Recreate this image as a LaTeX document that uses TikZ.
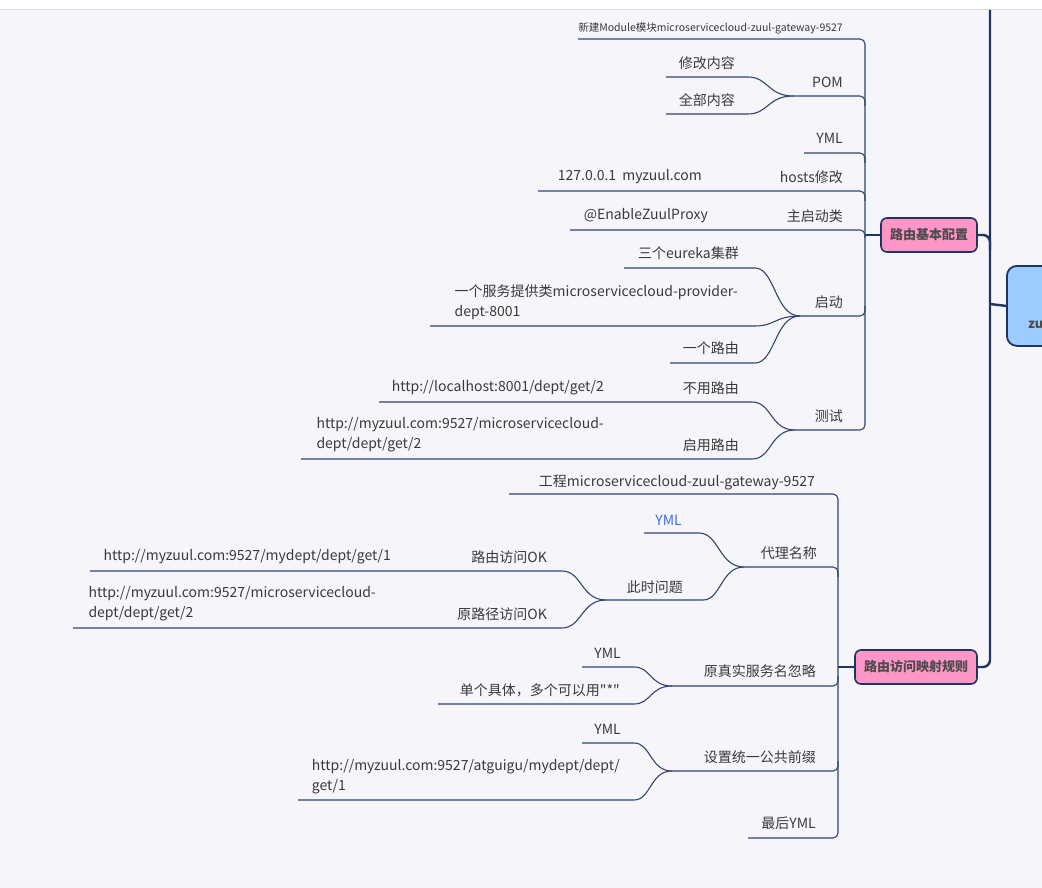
\documentclass[tikz,border=0pt]{standalone}
\usepackage{fontspec}
\setmainfont{Noto Sans CJK SC}
\newfontfamily\nq{Noto Sans CJK SC}
\definecolor{bg}{HTML}{F5F5FA}
\definecolor{navy}{HTML}{1F3560}
\definecolor{lnc}{HTML}{34466E}
\definecolor{txt}{HTML}{3A3A3A}
\definecolor{pinkf}{HTML}{FF96C8}
\definecolor{bluef}{HTML}{9CCBFF}
\definecolor{ymlblue}{HTML}{3F6FE8}
\begin{document}
\begin{tikzpicture}[x=1pt,y=-1pt,
 lbl/.style={anchor=east,inner sep=0pt,text=txt,font=\fontsize{14}{20}\selectfont,align=left},
 small/.style={lbl,font=\fontsize{10.5}{13}\selectfont},
 leaf/.style={draw=lnc,line width=1.1pt,rounded corners=5pt},
 br/.style={draw=navy,line width=1.8pt},
 trunk/.style={draw=navy,line width=2.4pt,rounded corners=7pt},
 topic/.style={draw=navy,line width=1.6pt,fill=pinkf,rounded corners=6pt,minimum height=34pt,inner xsep=7pt,text=black!70,font=\bfseries\fontsize{13}{15}\selectfont}
]
\clip (0,0) rectangle (1042,888);
\fill[bg] (0,0) rectangle (1042,888);
\fill[white] (0,0) rectangle (1042,9);
\draw[black!15,line width=1pt] (0,9.5) -- (1042,9.5);

% ---------- root and main topics ----------
\node[draw=navy,line width=1.8pt,fill=bluef,rounded corners=10pt,minimum width=100pt,minimum height=80pt,anchor=north west] (root) at (1006,265) {};
\node[anchor=west,inner sep=0pt,font=\bfseries\fontsize{13}{15}\selectfont,text=black!70] (rt) at (1028,323) {zuul};
\node[topic,minimum width=96pt] (p1) at (929,235) {路由基本配置};
\node[topic,minimum width=122pt] (p2) at (916,667) {路由访问映射规则};

\coordinate (ttop) at (990,10);
\coordinate (tj) at (990,304);
\draw[trunk] (ttop) -- (990,667) -- (p2.east);
\draw[trunk] (p1.east) -- (990,235) -- (990,250);
\draw[trunk] (root.west) -- (tj);

% ---------- branch 1 ----------
\coordinate (v1a) at (865,39);
\coordinate (v1b) at (865,430);
\node[small] (a1) at (843,28) {新建Module模块microservicecloud-zuul-gateway-9527};
\coordinate (a1s) at (578,39);
\node[lbl] (a7) at (843,416) {测试};
\coordinate (a7s) at (795,430);
\draw[leaf] (a1s) -- (v1a) -- (v1b) -- (a7s);
\draw[br] (p1.west) -- (865,235);

\node[lbl] (a2) at (843,82) {POM};
\coordinate (a2s) at (793,96);
\draw[leaf] (a2s) -- (865,96) -- (865,106);
\node[lbl] (a21) at (735,63) {修改内容};
\coordinate (a21s) at (666,77); \coordinate (a21e) at (743,77);
\draw[leaf] (a21s) -- (a21e) .. controls +(25,0) and +(-25,0) .. (a2s);
\node[lbl] (a22) at (735,100) {全部内容};
\coordinate (a22s) at (666,114); \coordinate (a22e) at (743,114);
\draw[leaf] (a22s) -- (a22e) .. controls +(25,0) and +(-25,0) .. (a2s);

\node[lbl] (a3) at (843,138) {YML};
\coordinate (a3s) at (804,153);
\draw[leaf] (a3s) -- (865,153) -- (865,163);

\node[lbl] (a4) at (843,177) {hosts修改};
\node[lbl] (a41) at (702,177) {127.0.0.1\ \ myzuul.com};
\coordinate (a4s) at (538,191);
\draw[leaf] (a4s) -- (865,191) -- (865,201);

\node[lbl] (a5) at (843,216) {主启动类};
\node[lbl] (a51) at (708,216) {@EnableZuulProxy};
\coordinate (a5s) at (570,230);
\draw[leaf] (a5s) -- (865,230) -- (865,238);

\node[lbl] (a6) at (843,302) {启动};
\coordinate (a6s) at (800,316);
\draw[leaf] (a6s) -- (865,316) -- (865,306);
\node[lbl] (a61) at (739,253) {三个eureka集群};
\coordinate (a61s) at (624,268); \coordinate (a61e) at (750,268);
\draw[leaf] (a61s) -- (a61e) .. controls +(25,0) and +(-25,0) .. (a6s);
\node[lbl] (a62) at (738,302) {一个服务提供类microservicecloud-provider-\\dept-8001};
\coordinate (a62s) at (430,326); \coordinate (a62e) at (750,326);
\draw[leaf] (a62s) -- (a62e) .. controls +(25,0) and +(-25,0) .. (a6s);
\node[lbl] (a63) at (739,348) {一个路由};
\coordinate (a63s) at (670,363); \coordinate (a63e) at (750,363);
\draw[leaf] (a63s) -- (a63e) .. controls +(25,0) and +(-25,0) .. (a6s);

\node[lbl] (a71) at (739,388) {不用路由};
\node[lbl] (a711) at (604,388) {http://localhost:8001/dept/get/2};
\coordinate (a71s) at (379,402); \coordinate (a71e) at (747,402);
\draw[leaf] (a71s) -- (a71e) .. controls +(25,0) and +(-25,0) .. (a7s);
\node[lbl] (a72) at (739,445) {启用路由};
\node[lbl] (a721) at (604,435) {http://myzuul.com:9527/microservicecloud-\\dept/dept/get/2};
\coordinate (a72s) at (301,459); \coordinate (a72e) at (747,459);
\draw[leaf] (a72s) -- (a72e) .. controls +(25,0) and +(-25,0) .. (a7s);

% ---------- branch 2 ----------
\node[lbl] (b1) at (815,482) {工程microservicecloud-zuul-gateway-9527};
\coordinate (b1s) at (509,494);
\node[lbl] (b5) at (816,823) {最后YML};
\coordinate (b5s) at (748,838);
\draw[leaf] (b1s) -- (838,494) -- (838,838) -- (b5s);
\draw[br] (p2.west) -- (838,667);

\node[lbl] (b2) at (817,553) {代理名称};
\coordinate (b2s) at (744,567);
\draw[leaf] (b2s) -- (838,567) -- (838,577);
\node[lbl,text=ymlblue] (b21) at (682,520) {YML};
\coordinate (b21s) at (644,533); \coordinate (b21e) at (694,533);
\draw[leaf] (b21s) -- (b21e) .. controls +(25,0) and +(-25,0) .. (b2s);
\node[lbl] (b22) at (683,587) {此时问题};
\coordinate (b22s) at (606,600); \coordinate (b22e) at (698,600);
\draw[leaf] (b22s) -- (b22e) .. controls +(23,0) and +(-23,0) .. (b2s);
\node[lbl] (b221) at (547,557) {路由访问OK};
\node[lbl] (b2211) at (391,557) {http://myzuul.com:9527/mydept/dept/get/1};
\coordinate (b221s) at (90,571); \coordinate (b221e) at (557,571);
\draw[leaf] (b221s) -- (b221e) .. controls +(25,0) and +(-25,0) .. (b22s);
\node[lbl] (b222) at (547,614) {原路径访问OK};
\node[lbl] (b2221) at (376,604) {http://myzuul.com:9527/microservicecloud-\\dept/dept/get/2};
\coordinate (b222s) at (73,628); \coordinate (b222e) at (557,628);
\draw[leaf] (b222s) -- (b222e) .. controls +(25,0) and +(-25,0) .. (b22s);

\node[lbl] (b3) at (816,671) {原真实服务名忽略};
\coordinate (b3s) at (672,686);
\draw[leaf] (b3s) -- (838,686) -- (838,676);
\node[lbl] (b31) at (621,653) {YML};
\coordinate (b31s) at (582,667); \coordinate (b31e) at (629,667);
\draw[leaf] (b31s) -- (b31e) .. controls +(22,0) and +(-22,0) .. (b3s);
\node[lbl] (b32) at (620,690) {\nq 单个具体，多个可以用"*"};
\coordinate (b32s) at (438,704); \coordinate (b32e) at (629,704);
\draw[leaf] (b32s) -- (b32e) .. controls +(22,0) and +(-22,0) .. (b3s);

\node[lbl] (b4) at (816,757) {设置统一公共前缀};
\coordinate (b4s) at (672,771);
\draw[leaf] (b4s) -- (838,771) -- (838,761);
\node[lbl] (b41) at (621,729) {YML};
\coordinate (b41s) at (582,743); \coordinate (b41e) at (629,743);
\draw[leaf] (b41s) -- (b41e) .. controls +(22,0) and +(-22,0) .. (b4s);
\node[lbl] (b42) at (620,777) {http://myzuul.com:9527/atguigu/mydept/dept/\\get/1};
\coordinate (b42s) at (298,800); \coordinate (b42e) at (629,800);
\draw[leaf] (b42s) -- (b42e) .. controls +(22,0) and +(-22,0) .. (b4s);
\end{tikzpicture}
\end{document}
